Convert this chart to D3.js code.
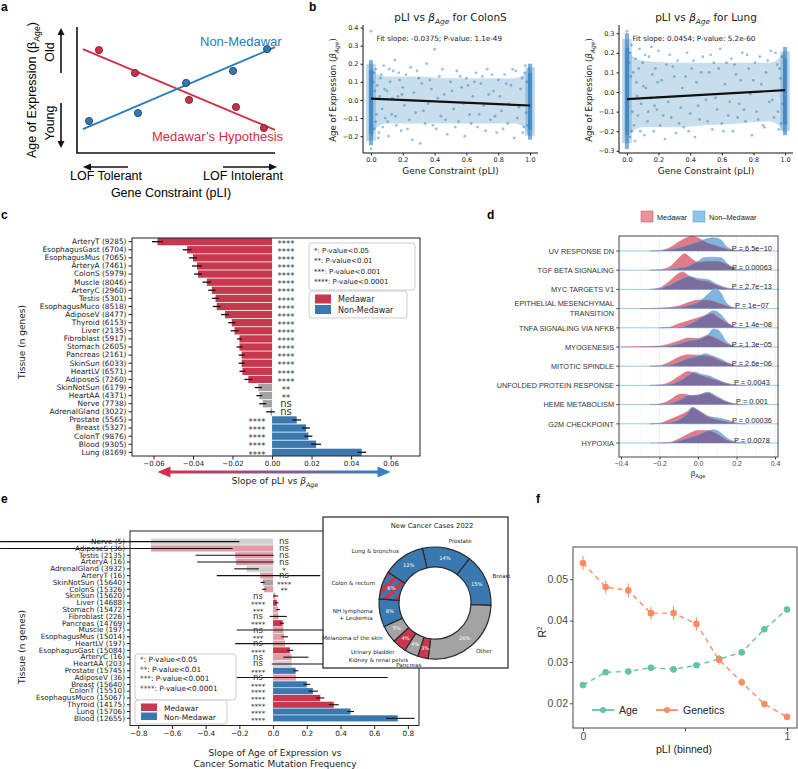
<!DOCTYPE html>
<html><head><meta charset="utf-8">
<script src="https://cdn.jsdelivr.net/npm/d3@7"></script>
<style>body{margin:0;background:#fff}</style></head>
<body><svg id="fig" width="798" height="769"></svg>
<script>
// ---------------- DATA ----------------
// panel a (schematic)
const aMedawarPts = [[0.111,0.817],[0.293,0.635],[0.566,0.421],[0.803,0.365],[0.944,0.198]];
const aNonMedawarPts = [[0.061,0.254],[0.308,0.317],[0.551,0.556],[0.788,0.651],[0.96,0.825]];
const aMedawarLine = [[0.03,0.825],[1.0,0.183]];
const aNonMedawarLine = [[0.03,0.19],[1.0,0.84]];
// panel b
const bTissues = ["ColonS","Lung"];
const bSlopes = [-0.0375, 0.0454];
const bPvalues = ["1.1e-49","5.2e-60"];
const bIntercepts = [0.007, -0.036];
const bEnvPli = [0,0.015,0.04,0.1,0.3,0.5,0.7,0.9,0.96,0.985,1.0];
const bColonEnvLo = [-0.24,-0.19,-0.15,-0.13,-0.13,-0.13,-0.13,-0.13,-0.15,-0.19,-0.21];
const bColonEnvHi = [0.21,0.17,0.14,0.13,0.13,0.12,0.12,0.12,0.14,0.17,0.19];
const bLungEnvLo = [-0.27,-0.22,-0.2,-0.18,-0.18,-0.17,-0.16,-0.15,-0.17,-0.2,-0.21];
const bLungEnvHi = [0.27,0.22,0.18,0.16,0.15,0.15,0.15,0.15,0.17,0.2,0.22];
const bColonEdges = [[0,-0.25,0.22],[1,-0.22,0.2]];
const bLungEdges = [[0,-0.29,0.3],[1,-0.22,0.23]];
const bColonPoints = [[0,0.38],[0.02,0.15],[0.03,-0.12],[0.04,0.08],[0.05,-0.18],[0.06,0.12],[0.07,-0.05],[0.08,0.19],[0.09,-0.1],[0.1,0.05],[0.11,-0.2],[0.12,0.1],[0.13,-0.08],[0.14,0.16],[0.15,0.22],[0.16,-0.14],[0.17,0.02],[0.18,0.11],[0.19,-0.17],[0.2,0.07],[0.21,-0.03],[0.22,0.14],[0.24,-0.11],[0.25,0.18],[0.26,-0.22],[0.27,0.04],[0.28,-0.07],[0.3,0.12],[0.31,-0.24],[0.32,0.09],[0.34,-0.13],[0.35,0.2],[0.36,-0.02],[0.38,0.06],[0.4,0.28],[0.41,-0.16],[0.43,0.13],[0.44,-0.09],[0.46,0.03],[0.48,-0.19],[0.5,0.1],[0.52,-0.05],[0.54,0.16],[0.55,-0.12],[0.57,0.07],[0.59,-0.2],[0.6,0.12],[0.62,-0.08],[0.64,0.02],[0.66,0.15],[0.67,-0.15],[0.69,0.09],[0.71,-0.03],[0.73,0.17],[0.75,-0.11],[0.77,0.05],[0.79,-0.18],[0.8,0.11],[0.82,-0.06],[0.84,0.14],[0.86,-0.13],[0.88,0.08],[0.9,-0.21],[0.91,0.16],[0.93,-0.04],[0.95,0.12],[0.96,-0.15],[0.97,0.19],[0,-0.27],
 [0.015,0.1],[0.02,-0.16],[0.025,0.05],[0.03,0.17],[0.035,-0.08],[0.045,-0.21],[0.055,0.02],[0.065,0.14],[0.075,-0.15],[0.085,0.06],[0.105,-0.12],[0.115,0.17],[0.135,0.01],[0.155,-0.09],[0.175,0.15],[0.195,0.03],[0.23,-0.16],[0.29,0.16],[0.33,-0.06],[0.37,0.11],[0.39,-0.14],[0.42,0.01],[0.45,0.17],[0.47,-0.11],[0.51,0.05],[0.53,-0.15],[0.56,0.13],[0.58,-0.02],[0.61,0.08],[0.63,-0.13],[0.65,0.1],[0.68,-0.08],[0.7,0.13],[0.72,-0.17],[0.74,0.03],[0.76,0.14],[0.78,-0.09],[0.81,0.02],[0.83,-0.16],[0.85,0.09],[0.87,-0.02],[0.89,0.17],[0.92,-0.1],[0.94,0.06],[0.955,-0.18],[0.965,0.15],[0.975,-0.07],[0.98,0.1],[0.985,-0.14]];
const bLungPoints = [[0,0.31],[0.02,0.2],[0.03,-0.2],[0.04,0.1],[0.05,-0.25],[0.06,0.05],[0.07,-0.12],[0.08,0.22],[0.09,-0.06],[0.1,0.15],[0.11,-0.22],[0.12,0.02],[0.13,-0.15],[0.14,0.18],[0.15,-0.03],[0.16,0.09],[0.17,-0.2],[0.18,0.12],[0.19,-0.09],[0.2,0.21],[0.21,-0.17],[0.22,0.06],[0.24,-0.24],[0.25,0.14],[0.26,-0.05],[0.27,0.19],[0.28,-0.13],[0.3,0.08],[0.31,-0.21],[0.32,0.16],[0.34,-0.08],[0.35,0.02],[0.36,-0.18],[0.38,0.2],[0.4,-0.11],[0.41,0.12],[0.43,-0.23],[0.44,0.05],[0.46,-0.14],[0.48,0.18],[0.5,-0.04],[0.52,0.1],[0.54,-0.19],[0.55,0.15],[0.57,-0.09],[0.59,0.22],[0.6,-0.16],[0.62,0.04],[0.64,-0.12],[0.66,0.17],[0.67,-0.2],[0.69,0.09],[0.71,-0.06],[0.73,0.2],[0.75,-0.15],[0.77,0.12],[0.79,-0.22],[0.8,0.06],[0.82,-0.1],[0.84,0.18],[0.86,-0.17],[0.88,0.1],[0.9,-0.05],[0.91,0.21],[0.93,-0.13],[0.95,0.14],[0.96,-0.19],[0.97,0.07],
 [0.015,0.15],[0.02,-0.23],[0.025,0.08],[0.03,0.24],[0.035,-0.1],[0.045,-0.17],[0.055,0.17],[0.065,-0.02],[0.075,0.12],[0.085,-0.2],[0.105,0.03],[0.115,0.19],[0.135,-0.1],[0.155,0.23],[0.175,-0.07],[0.195,0.05],[0.23,-0.12],[0.29,0.13],[0.33,-0.16],[0.37,0.08],[0.39,-0.2],[0.42,0.16],[0.45,-0.07],[0.47,0.1],[0.51,-0.15],[0.53,0.19],[0.56,-0.03],[0.58,0.12],[0.61,-0.2],[0.63,0.15],[0.65,-0.05],[0.68,0.14],[0.7,-0.13],[0.72,0.06],[0.74,-0.09],[0.76,0.19],[0.78,-0.01],[0.81,0.15],[0.83,-0.14],[0.85,0.04],[0.87,-0.18],[0.89,0.16],[0.92,-0.04],[0.94,0.2],[0.955,-0.1],[0.965,0.12],[0.975,-0.16],[0.98,0.18],[0.985,-0.06]];
// panel c
const cTissues = ["ArteryT","EsophagusGast","EsophagusMus","ArteryA","ColonS","Muscle","ArteryC","Testis","EsophagusMuco","AdiposeV","Thyroid","Liver","Fibroblast","Stomach","Pancreas","SkinSun","HeartLV","AdiposeS","SkinNotSun","HeartAA","Nerve","AdrenalGland","Prostate","Breast","ColonT","Blood","Lung"];
const cGenes = [9285,6704,7065,7461,5979,8046,2960,5301,8518,8477,6153,2135,5917,2605,2161,6033,6571,7260,6179,4371,7738,3022,5565,5327,9876,9305,8169];
const cSlopes = [-0.058,-0.043,-0.040,-0.038,-0.0375,-0.033,-0.0305,-0.0286,-0.028,-0.0238,-0.0204,-0.019,-0.0165,-0.0165,-0.0154,-0.0154,-0.015,-0.012,-0.0069,-0.0064,-0.0047,-0.0008,0.0125,0.0172,0.0184,0.0223,0.0454];
const cErr = [0.0028,0.0022,0.002,0.0025,0.002,0.0022,0.0018,0.0018,0.002,0.002,0.0018,0.002,0.0012,0.0015,0.0015,0.0015,0.0015,0.002,0.0018,0.0015,0.0018,0.0022,0.0022,0.002,0.002,0.0025,0.0022];
const cSig = ["****","****","****","****","****","****","****","****","****","****","****","****","****","****","****","****","****","****","**","**","ns","ns","****","****","****","****","****"];
const cGroup = ["M","M","M","M","M","M","M","M","M","M","M","M","M","M","M","M","M","M","G","G","G","G","N","N","N","N","N"];
const cTicks = [-0.06,-0.04,-0.02,0,0.02,0.04,0.06];
const sigLegend = ["*: P-value<0.05","**: P-value<0.01","***: P-value<0.001","****: P-value<0.0001"];
const groupLegend = ["Medawar","Non-Medawar"];
// panel d
const dPathways = ["UV RESPONSE DN","TGF BETA SIGNALING","MYC TARGETS V1","EPITHELIAL MESENCHYMAL\nTRANSITION","TNFA SIGNALING VIA NFKB","MYOGENESIS","MITOTIC SPINDLE","UNFOLDED PROTEIN RESPONSE","HEME METABOLISM","G2M CHECKPOINT","HYPOXIA"];
const dPvalues = ["P = 6.5e\u221210","P = 0.00063","P = 2.7e\u221213","P = 1e\u221207","P = 1.4e\u221208","P = 1.3e\u221205","P = 2.6e\u221206","P = 0.0043","P = 0.001","P = 0.00036","P = 0.0078"];
const dMedawar = [
 [[-0.25,0],[-0.2,0.3],[-0.15,3],[-0.1,9],[-0.05,14],[-0.03,14.7],[0,13],[0.05,8],[0.1,5],[0.15,2],[0.2,0.5],[0.25,0]],
 [[-0.25,0],[-0.2,0.5],[-0.15,3],[-0.1,12],[-0.07,16.5],[-0.03,11],[0,8],[0.05,9],[0.1,9],[0.15,6],[0.2,1],[0.25,0]],
 [[-0.25,0],[-0.2,1.5],[-0.15,8],[-0.1,16],[-0.08,17.5],[-0.05,14],[0,9.5],[0.05,8],[0.1,4],[0.15,1],[0.2,0],[0.25,0]],
 [[-0.3,0],[-0.2,0.5],[-0.1,2.5],[-0.05,6],[0,8.5],[0.05,8.5],[0.1,6],[0.15,2.5],[0.2,0.3],[0.25,0]],
 [[-0.2,0],[-0.15,0.5],[-0.1,4],[-0.05,7],[0,10],[0.05,13],[0.07,14.5],[0.1,11],[0.15,5],[0.2,0.5],[0.25,0]],
 [[-0.4,0],[-0.35,0.2],[-0.2,1],[-0.15,3],[-0.1,6],[-0.05,9],[0,8.5],[0.05,11.5],[0.1,8],[0.15,3],[0.2,0.5],[0.25,0]],
 [[-0.25,0],[-0.2,0.5],[-0.15,4],[-0.1,9],[-0.05,11.5],[0,11],[0.05,10.5],[0.1,7],[0.15,3],[0.2,0.5],[0.25,0]],
 [[-0.25,0],[-0.2,0.5],[-0.15,3],[-0.1,9],[-0.05,14],[0,11],[0.05,8],[0.1,5],[0.15,2],[0.2,0.3],[0.25,0]],
 [[-0.25,0],[-0.2,0.5],[-0.15,4],[-0.1,10],[-0.08,10.5],[-0.03,9],[0,9.5],[0.05,11.5],[0.1,7],[0.15,2.5],[0.2,0.5],[0.25,0]],
 [[-0.25,0],[-0.2,0.5],[-0.15,4],[-0.1,8],[-0.05,13],[-0.03,16],[0,13],[0.05,7],[0.1,4],[0.15,2],[0.2,0.3],[0.25,0]],
 [[-0.2,0],[-0.15,0.5],[-0.1,4],[-0.05,9],[0,12.5],[0.05,12.5],[0.1,9],[0.15,3],[0.2,0.3],[0.25,0]]];
const dNonMedawar = [
 [[-0.25,0],[-0.2,0.5],[-0.1,3],[-0.05,6],[0,9],[0.05,12.5],[0.08,13.3],[0.12,11],[0.15,4],[0.2,0.5],[0.25,0]],
 [[-0.25,0],[-0.2,0.3],[-0.1,2],[-0.05,4],[0,9],[0.03,12.5],[0.07,13],[0.12,12.5],[0.15,7],[0.2,1],[0.25,0]],
 [[-0.25,0],[-0.2,1],[-0.15,4],[-0.1,9],[-0.05,13],[0,11],[0.05,10],[0.1,5],[0.15,1.5],[0.2,0.3],[0.25,0]],
 [[-0.3,0],[-0.2,0.2],[-0.1,1],[-0.05,3],[0,6],[0.05,14],[0.09,20],[0.12,15],[0.15,5],[0.2,0.5],[0.25,0]],
 [[-0.2,0],[-0.1,0.5],[-0.05,3],[0,8],[0.05,14],[0.08,17],[0.12,13],[0.15,6],[0.2,0.5],[0.25,0]],
 [[-0.3,0],[-0.2,0.3],[-0.1,3],[-0.05,6],[0,7.5],[0.05,12],[0.08,18],[0.11,16],[0.15,5],[0.2,0.5],[0.25,0]],
 [[-0.25,0],[-0.15,1],[-0.1,4],[-0.05,8],[0,10],[0.04,12.5],[0.08,10],[0.12,7],[0.15,4],[0.2,0.5],[0.25,0]],
 [[-0.25,0],[-0.15,1],[-0.1,4],[-0.05,10],[-0.02,13.5],[0.02,11],[0.05,10],[0.1,6],[0.15,2],[0.2,0.5],[0.25,0]],
 [[-0.25,0],[-0.15,1],[-0.1,4],[-0.05,9],[0,9.5],[0.05,12.5],[0.1,8],[0.15,3],[0.2,0.5],[0.25,0]],
 [[-0.25,0],[-0.15,1],[-0.1,4],[-0.05,11],[-0.03,16.5],[0,14],[0.05,8],[0.1,6],[0.15,4],[0.2,1],[0.25,0]],
 [[-0.25,0],[-0.15,0.3],[-0.1,2],[-0.05,5],[0,8],[0.05,12],[0.08,13.3],[0.12,10],[0.15,5],[0.2,1],[0.25,0]]];
const dTicks = [-0.4,-0.2,0,0.2,0.4];
// panel e
const eTissues = ["Nerve","AdiposeS","Testis","ArteryA","AdrenalGland","ArteryT","SkinNotSun","ColonS","SkinSun","Liver","Stomach","Fibroblast","Pancreas","Muscle","EsophagusMus","HeartLV","EsophagusGast","ArteryC","HeartAA","Prostate","AdiposeV","Breast","ColonT","EsophagusMuco","Thyroid","Lung","Blood"];
const eGenes = [5,36,2135,16,3932,16,15640,15326,15620,14688,15472,226,14769,197,15014,197,15084,16,203,15745,36,15640,15510,15067,14175,15706,12655];
const eSlopes = [-0.724,-0.724,-0.225,-0.22,-0.157,-0.077,-0.061,-0.053,0.014,0.022,0.03,0.032,0.057,0.061,0.065,0.071,0.10,0.11,0.11,0.134,0.135,0.20,0.236,0.28,0.36,0.46,0.74];
const eLo = [-1.62,-1.62,-0.46,-0.45,-0.23,-0.334,-0.075,-0.065,0.0,0.012,0.02,-0.02,0.04,-0.216,0.05,-0.225,0.085,0.061,-0.008,0.12,-0.216,0.18,0.21,0.255,0.33,0.44,0.67];
const eHi = [-0.2,-0.24,0.005,0.005,-0.085,0.28,-0.05,-0.04,0.03,0.032,0.04,0.082,0.065,0.34,0.088,0.37,0.12,0.21,0.30,0.15,0.68,0.22,0.266,0.305,0.39,0.48,0.84];
const eSig = ["ns","ns","ns","ns","*","ns","****","**","ns","****","***","ns","****","ns","***","ns","****","ns","ns","****","ns","****","****","****","****","****","****"];
const eGroup = ["G","M","M","M","G","M","G","M","M","M","M","M","M","M","M","M","M","M","G","N","M","N","N","M","M","N","N"];
const eTicks = [-0.8,-0.6,-0.4,-0.2,0,0.2,0.4,0.6,0.8];
// inset pie
const pieSites = ["Prostate","Breast","Other","Pancreas","Kidney & renal pelvis","Urinary bladder","Melanoma of the skin","NH lymphoma\n+ Leukemia","Colon & rectum","Lung & bronchus"];
const piePct = [14,15,26,3,4,4,5,8,8,12];
const pieGroup = ["N","N","G","M","G","M","G","N","S","N"];
// panel f
const fBins = [0,0.111,0.222,0.333,0.444,0.556,0.667,0.778,0.889,1];
const fAge = [0.0244,0.0275,0.0277,0.0286,0.0282,0.0292,0.0307,0.0323,0.0379,0.0427];
const fAgeErr = [0.0003,0.0003,0.0003,0.0003,0.0003,0.0003,0.0003,0.0003,0.0004,0.0004];
const fGenetics = [0.0539,0.0481,0.0473,0.0418,0.0418,0.0392,0.0305,0.0251,0.0198,0.0167];
const fGenErr = [0.0017,0.0016,0.0017,0.0016,0.0017,0.0016,0.0012,0.001,0.0008,0.0005];
const fTicksY = [0.02,0.03,0.04,0.05];

// ---------------- DRAW ----------------
const FD = "'DejaVu Sans', sans-serif", FA = "'Liberation Sans', Arial, sans-serif";
const RED="#c8374d", BLUE="#3a78b0", GRAY="#a3a3a3";
const svg = d3.select("#fig");
const defs = svg.append("defs");
function T(g,x,y,s,o={}){const t=g.append("text").attr("x",x).attr("y",y);if(s)t.text(s);for(const k in o)t.attr(k,o[k]);return t;}
function sub(t,size,italic,after){
  t.append("tspan").text("β").attr("font-style",italic?"italic":null);
  t.append("tspan").text("Age").attr("font-size",size*0.7).attr("dy",size*0.3).attr("font-style",italic?"italic":null);
  if(after) t.append("tspan").text(after).attr("dy",-size*0.3);
}
function arrow(g,x1,y1,x2,y2,w,hl,hw,color){
  const a=Math.atan2(y2-y1,x2-x1),bx=x2-hl*Math.cos(a),by=y2-hl*Math.sin(a);
  g.append("line").attr("x1",x1).attr("y1",y1).attr("x2",bx).attr("y2",by).attr("stroke",color).attr("stroke-width",w);
  const px=-Math.sin(a)*hw,py=Math.cos(a)*hw;
  g.append("path").attr("d",`M${x2},${y2}L${bx+px},${by+py}L${bx-px},${by-py}Z`).attr("fill",color);
}
function styleAxis(g,size,font,color){g.selectAll("text").attr("font-size",size).attr("font-family",font).attr("fill",color||"#222");g.selectAll("line").attr("stroke",color||"#222");g.select(".domain").remove();}

// panel labels
[["a",1,11],["b",309,11],["c",1,219],["d",487,219],["e",1,503],["f",536,503]].forEach(p=>T(svg,p[1],p[2],p[0],{"font-family":FA,"font-weight":"bold","font-size":12}));

// ---- panel a ----
{
 const g=svg.append("g").attr("font-family",FA);
 const x=d3.scaleLinear().domain([0,1]).range([77,275]), y=d3.scaleLinear().domain([0,1]).range([153,27]);
 const ARED="#d42c44", ABLUE="#2b7bbd";
 const ln=d3.line().x(d=>x(d[0])).y(d=>y(d[1]));
 g.append("path").attr("d",ln(aMedawarLine)).attr("stroke",ARED).attr("stroke-width",1.8);
 g.append("path").attr("d",ln(aNonMedawarLine)).attr("stroke",ABLUE).attr("stroke-width",1.8);
 g.selectAll(".rd").data(aMedawarPts).join("circle").attr("cx",d=>x(d[0])).attr("cy",d=>y(d[1])).attr("r",3.6).attr("fill",ARED).attr("stroke","#333").attr("stroke-width",0.8);
 g.selectAll(".bd").data(aNonMedawarPts).join("circle").attr("cx",d=>x(d[0])).attr("cy",d=>y(d[1])).attr("r",3.6).attr("fill",ABLUE).attr("stroke","#333").attr("stroke-width",0.8);
 g.append("path").attr("d",`M${x(0)},${y(1)}V${y(0)}H${x(1)}`).attr("fill","none").attr("stroke","#111").attr("stroke-width",1.6);
 T(g,200,46,"Non-Medawar",{"font-size":13,fill:ABLUE});
 T(g,152,141,"Medawar’s Hypothesis",{"font-size":13,fill:ARED});
 arrow(g,61,73,61,28,1.6,7,3.5,"#111"); arrow(g,61,103,61,148,1.6,7,3.5,"#111");
 T(g,0,0,"Old",{"font-size":12.5,"text-anchor":"middle",transform:"translate(54,52) rotate(-90)"});
 T(g,0,0,"Young",{"font-size":12.5,"text-anchor":"middle",transform:"translate(54,123) rotate(-90)"});
 const yl=T(g,0,0,"Age of Expression (",{"font-size":12.5,"text-anchor":"middle",transform:"translate(36,90) rotate(-90)"}); sub(yl,12.5,false,")");
 arrow(g,128,167,83,167,1.5,8,3.5,"#111"); arrow(g,223,167,277,167,1.5,8,3.5,"#111");
 T(g,70,180,"LOF Tolerant",{"font-size":12.5}); T(g,203,180,"LOF Intolerant",{"font-size":12.5});
 T(g,171,197,"Gene Constraint (pLI)",{"font-size":12.5,"text-anchor":"middle"});
}

// ---- panel b ----
function scatterPanel(i,pts,envLo,envHi,edges,box,ydom,yt){
 const g=svg.append("g").attr("font-family",FD);
 const x=d3.scaleLinear().domain([-0.05,1.05]).range([box.l,box.r]);
 const y=d3.scaleLinear().domain(ydom).range([153,25]);
 const env=bEnvPli.map((p,k)=>[p,envLo[k],envHi[k]]);
 g.append("path").attr("d",d3.area().x(d=>x(d[0])).y0(d=>y(d[1])).y1(d=>y(d[2])).curve(d3.curveMonotoneX)(env)).attr("fill","#1f77b4").attr("opacity",0.24);
 g.selectAll(".halo").data(edges).join("rect").attr("x",d=>x(d[0]-0.03)).attr("width",x(0.03)-x(-0.03)).attr("y",d=>y(d[2]*0.9)).attr("height",d=>y(d[1]*0.9)-y(d[2]*0.9)).attr("fill","#2c7bbd").attr("opacity",0.3);
 g.selectAll(".ed").data(edges).join("rect").attr("x",d=>x(d[0]-0.013)).attr("width",x(0.013)-x(-0.013)).attr("y",d=>y(d[2])).attr("height",d=>y(d[1])-y(d[2])).attr("fill","#2c7bbd").attr("opacity",0.6);
 g.selectAll(".core").data(edges).join("rect").attr("x",d=>x(d[0]-0.013)).attr("width",x(0.013)-x(-0.013)).attr("y",d=>y(d[2]*0.75)).attr("height",d=>y(d[1]*0.75)-y(d[2]*0.75)).attr("fill","#2c7bbd").attr("opacity",0.5);
 g.selectAll(".pt").data(pts).join("circle").attr("cx",d=>x(d[0])).attr("cy",d=>y(d[1])).attr("r",1.4).attr("fill","#1f77b4").attr("opacity",0.45);
 g.append("path").attr("d",d3.line().x(d=>x(d)).y(d=>y(bIntercepts[i]+bSlopes[i]*d))([0,1])).attr("stroke","#111").attr("stroke-width",2.2);
 const ax=g.append("g").attr("transform",`translate(0,153)`).call(d3.axisBottom(x).tickValues([0,0.2,0.4,0.6,0.8,1]).tickFormat(d3.format(".1f")).tickSize(2.5).tickPadding(2));
 styleAxis(ax,6.5,FD);
 const ay=g.append("g").attr("transform",`translate(${box.l},0)`).call(d3.axisLeft(y).tickValues(yt).tickFormat(d3.format(".1f")).tickSize(2.5).tickPadding(2));
 styleAxis(ay,6.5,FD);
 g.append("path").attr("d",`M${box.l},25V153H${box.r}`).attr("fill","none").attr("stroke","#111").attr("stroke-width",1);
 const cx=(x(0)+x(1))/2;
 const tt=T(g,cx,21,"pLI vs ",{"font-size":10.5,"text-anchor":"middle",fill:"#222"}); sub(tt,10.5,true," for "+bTissues[i]);
 T(g,x(0.035),41,`Fit slope: ${bSlopes[i]}; P-value: ${bPvalues[i]}`,{"font-size":7.2,fill:"#222"});
 T(g,cx,174,"Gene Constraint (pLI)",{"font-size":9,"text-anchor":"middle",fill:"#222"});
 const yl=T(g,0,0,"Age of Expression (",{"font-size":8.6,"text-anchor":"middle",fill:"#222",transform:`translate(${box.l-27},90) rotate(-90)`}); sub(yl,8.6,true,")");
}
scatterPanel(0,bColonPoints,bColonEnvLo,bColonEnvHi,bColonEdges,{l:363,r:538},[-0.293,0.414],[-0.2,-0.1,0,0.1,0.2,0.3,0.4]);
scatterPanel(1,bLungPoints,bLungEnvLo,bLungEnvHi,bLungEdges,{l:619,r:793},[-0.311,0.342],[-0.3,-0.2,-0.1,0,0.1,0.2,0.3]);

// legends shared
function sigLegendBox(g,x0,y0,w,h,lh,fs){
 g.append("rect").attr("x",x0).attr("y",y0).attr("width",w).attr("height",h).attr("rx",3).attr("fill","#fff").attr("fill-opacity",0.85).attr("stroke","#ccc");
 sigLegend.forEach((s,k)=>T(g,x0+5,y0+lh*(k+1)-1,s,{"font-size":fs,fill:"#222"}));
}
function groupLegendBox(g,x0,y0,w,h,fs){
 g.append("rect").attr("x",x0).attr("y",y0).attr("width",w).attr("height",h).attr("rx",3).attr("fill","#fff").attr("fill-opacity",0.85).attr("stroke","#ccc");
 [RED,BLUE].forEach((c,k)=>{g.append("rect").attr("x",x0+6).attr("y",y0+3.5+k*(h-6)/2).attr("width",16).attr("height",(h-6)/2-1.5).attr("fill",c);
  T(g,x0+29,y0+3+(k+0.5)*(h-6)/2+3,groupLegend[k],{"font-size":fs,fill:"#222"});});
}
const gcol=gr=>gr==="M"?RED:gr==="N"?BLUE:GRAY;

// ---- panel c ----
{
 const g=svg.append("g").attr("font-family",FD);
 const x=d3.scaleLinear().domain([-0.0709,0.0749]).range([132,420]);
 const y=d3.scaleBand().domain(cTissues).range([238,456]).paddingInner(0.1);
 const idx=cTissues.map((t,k)=>k);
 g.selectAll(".bar").data(idx).join("rect").attr("x",k=>x(Math.min(0,cSlopes[k]))).attr("width",k=>Math.abs(x(cSlopes[k])-x(0))).attr("y",k=>y(cTissues[k])).attr("height",y.bandwidth()).attr("fill",k=>gcol(cGroup[k]));
 g.selectAll(".err").data(idx).join("line").attr("x1",k=>x(cSlopes[k]-cErr[k])).attr("x2",k=>x(cSlopes[k]+cErr[k])).attr("y1",k=>y(cTissues[k])+y.bandwidth()/2).attr("y2",k=>y(cTissues[k])+y.bandwidth()/2).attr("stroke","#111").attr("stroke-width",1.3);
 g.selectAll(".sig").data(idx).join("text").attr("x",k=>cSlopes[k]<0?x(0)+14:x(0)-15).attr("y",k=>y(cTissues[k])+y.bandwidth()/2+(cSig[k]==="ns"?3:5.2)).attr("text-anchor","middle").attr("font-size",k=>cSig[k]==="ns"?10:8.5).attr("fill","#333").text(k=>cSig[k]);
 const ay=g.append("g").attr("transform","translate(132,0)").call(d3.axisLeft(y).tickFormat((t,k)=>`${t} (${cGenes[k]})`).tickSize(3.5).tickPadding(2));
 styleAxis(ay,7.4,FD);
 const ax=g.append("g").attr("transform","translate(0,456)").call(d3.axisBottom(x).tickValues(cTicks).tickFormat(d3.format(".2f")).tickSize(3.5).tickPadding(2));
 styleAxis(ax,7,FD);
 g.append("rect").attr("x",132).attr("y",238).attr("width",288).attr("height",218).attr("fill","none").attr("stroke","#222").attr("stroke-width",1);
 sigLegendBox(g,309,243,106,47,10.5,7);
 groupLegendBox(g,309,291,98,27,8);
 const grad=defs.append("linearGradient").attr("id","cgrad").attr("gradientUnits","userSpaceOnUse").attr("x1",x(-0.058)).attr("x2",x(0.06)).attr("y1",0).attr("y2",0);
 grad.append("stop").attr("offset",0).attr("stop-color","#d62c47"); grad.append("stop").attr("offset",0.5).attr("stop-color","#8a5a8e"); grad.append("stop").attr("offset",1).attr("stop-color","#2f82c6");
 const L=x(-0.058),R=x(0.06),yy=472;
 g.append("path").attr("d",`M${L},${yy}L${L+13},${yy-5.5}L${L+13},${yy-1.5}L${R-13},${yy-1.5}L${R-13},${yy-5.5}L${R},${yy}L${R-13},${yy+5.5}L${R-13},${yy+1.5}L${L+13},${yy+1.5}L${L+13},${yy+5.5}Z`).attr("fill","url(#cgrad)");
 const xl=T(g,275,484,"Slope of pLI vs ",{"font-size":9,"text-anchor":"middle",fill:"#222"}); sub(xl,9,true,null);
 T(g,0,0,"Tissue (n genes)",{"font-size":9,"text-anchor":"middle",fill:"#222",transform:"translate(25,342) rotate(-90)"});
}

// ---- panel d ----
{
 const g=svg.append("g").attr("font-family",FA);
 const x=d3.scaleLinear().domain([-0.4,0.4]).range([621,775]);
 const y=d3.scalePoint().domain(dPathways).range([251,443]);
 const h=d3.scaleLinear().domain([0,20]).range([0,20]);
 [-0.4,-0.3,-0.2,-0.1,0,0.1,0.2,0.3,0.4].forEach(v=>g.append("line").attr("x1",x(v)).attr("x2",x(v)).attr("y1",236).attr("y2",457).attr("stroke",dTicks.includes(v)?"#e6e6e6":"#f3f3f3").attr("stroke-width",0.6));
 const DRED="#e27a88",DBLUE="#7db7e1",DPUR="#7b6e9e";
 dPathways.forEach((p,k)=>{
  const b=y(p);
  const area=d3.area().x(d=>x(d[0])).y0(b).y1(d=>b-h(d[1])).curve(d3.curveMonotoneX);
  const line=d3.line().x(d=>x(d[0])).y(d=>b-h(d[1])).curve(d3.curveMonotoneX);
  g.append("line").attr("x1",x(-0.42)).attr("x2",x(0.42)).attr("y1",b).attr("y2",b).attr("stroke","#9cc9ea").attr("stroke-width",1);
  const cid="dclip"+k;
  defs.append("clipPath").attr("id",cid).append("path").attr("d",area(dMedawar[k]));
  g.append("path").attr("d",area(dMedawar[k])).attr("fill",DRED);
  g.append("path").attr("d",area(dNonMedawar[k])).attr("fill",DBLUE);
  g.append("path").attr("d",area(dNonMedawar[k])).attr("fill",DPUR).attr("clip-path",`url(#${cid})`);
  g.append("path").attr("d",line(dMedawar[k])).attr("fill","none").attr("stroke","#dc6675").attr("stroke-width",0.5);
  g.append("path").attr("d",line(dNonMedawar[k])).attr("fill","none").attr("stroke","#5ea4d8").attr("stroke-width",0.5);
  T(g,x(0.28),b-0.5,dPvalues[k],{"font-size":7.4,"text-anchor":"middle",fill:"#222"});
  const lines=p.split("\n");
  if(lines.length===1) T(g,614,b+2.7,p,{"font-size":7.3,"text-anchor":"end",fill:"#333"});
  else lines.forEach((s,j)=>T(g,614,b-2.5+j*10,s,{"font-size":7.3,"text-anchor":"end",fill:"#333"}));
  g.append("line").attr("x1",616).attr("x2",619).attr("y1",b).attr("y2",b).attr("stroke","#333").attr("stroke-width",0.7);
 });
 g.append("rect").attr("x",619).attr("y",236).attr("width",159).attr("height",221).attr("fill","none").attr("stroke","#333").attr("stroke-width",0.9);
 const ax=g.append("g").attr("transform","translate(0,457)").call(d3.axisBottom(x).tickValues(dTicks).tickFormat(d3.format(".1f")).tickSize(2.5).tickPadding(1.5));
 styleAxis(ax,7,FA,"#444");
 const bl=T(g,698,476,null,{"font-size":8,"text-anchor":"middle",fill:"#222"}); sub(bl,8,false,null);
 g.append("rect").attr("x",641).attr("y",211).attr("width",12).attr("height",11).attr("fill","#e8929c").attr("stroke","#d96272").attr("stroke-width",0.6);
 T(g,657,219.5,"Medawar",{"font-size":7.3,fill:"#222"});
 g.append("rect").attr("x",693).attr("y",211).attr("width",12).attr("height",11).attr("fill","#8fc4ea").attr("stroke","#5ca2d8").attr("stroke-width",0.6);
 T(g,709,219.5,"Non\u2013Medawar",{"font-size":7.3,fill:"#222"});
}

// ---- panel e ----
{
 const g=svg.append("g").attr("font-family",FD);
 const x=d3.scaleLinear().domain([-0.849,0.866]).range([130,419]);
 const y=d3.scaleBand().domain(eTissues).range([538.6,721.4]).paddingInner(0.1);
 const idx=eTissues.map((t,k)=>k);
 const cy=k=>y(eTissues[k])+y.bandwidth()/2;
 g.selectAll(".bar").data(idx).join("rect").attr("x",k=>x(Math.min(0,eSlopes[k]))).attr("width",k=>Math.abs(x(eSlopes[k])-x(0))).attr("y",k=>y(eTissues[k])).attr("height",y.bandwidth()).attr("fill",k=>gcol(eGroup[k])).attr("opacity",k=>eSig[k]==="****"?1:0.5);
 g.selectAll(".err").data(idx).join("line").attr("x1",k=>x(eLo[k])).attr("x2",k=>x(eHi[k])).attr("y1",cy).attr("y2",cy).attr("stroke","#111").attr("stroke-width",1.1);
 g.selectAll(".sig").data(idx).join("text").attr("x",k=>eSlopes[k]<0?x(0)+11:x(0)-15).attr("y",k=>cy(k)+(eSig[k]==="ns"?2.5:4.2)).attr("text-anchor","middle").attr("font-size",k=>eSig[k]==="ns"?8.6:7.2).attr("fill","#333").text(k=>eSig[k]);
 const ay=g.append("g").attr("transform","translate(130,0)").call(d3.axisLeft(y).tickFormat((t,k)=>`${t} (${eGenes[k]})`).tickSize(3).tickPadding(2));
 styleAxis(ay,7.2,FD);
 const ax=g.append("g").attr("transform","translate(0,725.5)").call(d3.axisBottom(x).tickValues(eTicks).tickFormat(d3.format(".1f")).tickSize(3.5).tickPadding(2));
 styleAxis(ax,7.3,FD);
 g.append("rect").attr("x",130).attr("y",531).attr("width",289).attr("height",194.5).attr("fill","none").attr("stroke","#222").attr("stroke-width",1);
 sigLegendBox(g,135,654,101,46,9.4,7.3);
 groupLegendBox(g,135,700,92,24,7.5);
 T(g,275,756,"Slope of Age of Expression vs",{"font-size":9,"text-anchor":"middle",fill:"#222"});
 T(g,275,767,"Cancer Somatic Mutation Frequency",{"font-size":9,"text-anchor":"middle",fill:"#222"});
 T(g,0,0,"Tissue (n genes)",{"font-size":9,"text-anchor":"middle",fill:"#222",transform:"translate(25,647) rotate(-90)"});
}

// ---- inset pie ----
{
 const g=svg.append("g").attr("font-family",FD);
 g.append("rect").attr("x",323).attr("y",517).attr("width",185).attr("height",151).attr("fill","#fff").attr("stroke","#222").attr("stroke-width",1.2);
 T(g,432,528,"New Cancer Cases 2022",{"font-size":6.8,"text-anchor":"middle",fill:"#222"});
 const pat=defs.append("pattern").attr("id","stripe").attr("patternUnits","userSpaceOnUse").attr("width",8).attr("height",8).attr("patternTransform","rotate(45)");
 pat.append("rect").attr("width",4).attr("height",8).attr("fill",RED); pat.append("rect").attr("x",4).attr("width",4).attr("height",8).attr("fill",BLUE);
 const cx=435,cy=603,R=56,r=36;
 const pie=d3.pie().sort(null).startAngle(-13*Math.PI/180).endAngle(2*Math.PI-13*Math.PI/180)(piePct);
 const arc=d3.arc().innerRadius(r).outerRadius(R);
 const fillOf=gr=>gr==="S"?"url(#stripe)":gcol(gr);
 const pg=g.append("g").attr("transform",`translate(${cx},${cy})`);
 pg.selectAll("path").data(pie).join("path").attr("d",arc).attr("fill",(d,k)=>fillOf(pieGroup[k])).attr("stroke","#2b2b2b").attr("stroke-width",1.2);
 const mid=d3.arc().innerRadius((R+r)/2).outerRadius((R+r)/2);
 pg.selectAll(".pct").data(pie).join("text").attr("transform",d=>`translate(${mid.centroid(d)})`).attr("dy","0.35em").attr("text-anchor","middle").attr("font-size",5.2).attr("fill","#fff").text((d,k)=>piePct[k]+"%");
 pie.forEach((d,k)=>{
  const a=(d.startAngle+d.endAngle)/2, lx=Math.sin(a)*R*1.13, ly=-Math.cos(a)*R*1.13;
  const lines=pieSites[k].split("\n");
  lines.forEach((s,j)=>T(pg,lx,ly+2+(j-(lines.length-1)/2)*6.5,s,{"font-size":5.6,"text-anchor":lx<0?"end":"start",fill:"#222"}));
 });
}

// ---- panel f ----
{
 const g=svg.append("g").attr("font-family",FA);
 const x=d3.scaleLinear().domain([-0.049,1.049]).range([573,797]);
 const y=d3.scaleLinear().domain([0.01402,0.0578]).range([728,547]);
 const TEAL="#66c2a5",ORG="#fc8d62";
 const ln=d3.line().x((d,k)=>x(fBins[k])).y(d=>y(d));
 g.append("path").attr("d",ln(fAge)).attr("fill","none").attr("stroke",TEAL).attr("stroke-width",1.4).attr("stroke-dasharray","5,4");
 g.append("path").attr("d",ln(fGenetics)).attr("fill","none").attr("stroke",ORG).attr("stroke-width",1.4).attr("stroke-dasharray","5,4");
 [[fAge,fAgeErr,TEAL],[fGenetics,fGenErr,ORG]].forEach(([v,e,c])=>{
  g.selectAll(null).data(v).join("line").attr("x1",(d,k)=>x(fBins[k])).attr("x2",(d,k)=>x(fBins[k])).attr("y1",(d,k)=>y(d-e[k])).attr("y2",(d,k)=>y(d+e[k])).attr("stroke",c).attr("stroke-width",1);
  g.selectAll(null).data(v).join("circle").attr("cx",(d,k)=>x(fBins[k])).attr("cy",d=>y(d)).attr("r",3.3).attr("fill",c);
 });
 g.append("rect").attr("x",573).attr("y",547).attr("width",224).attr("height",181).attr("fill","none").attr("stroke","#333").attr("stroke-width",0.9);
 const ay=g.append("g").attr("transform","translate(573,0)").call(d3.axisLeft(y).tickValues(fTicksY).tickFormat(d3.format(".2f")).tickSize(3).tickPadding(2));
 styleAxis(ay,10.5,FA,"#4d4d4d");
 const ax=g.append("g").attr("transform","translate(0,728)").call(d3.axisBottom(x).tickValues([0,0.5,1]).tickFormat(d=>d===0.5?"":d3.format("d")(d)).tickSize(3).tickPadding(2));
 styleAxis(ax,10.5,FA,"#4d4d4d");
 T(g,684,753,"pLI (binned)",{"font-size":10.5,"text-anchor":"middle",fill:"#222"});
 const rl=T(g,0,0,"R",{"font-size":10.5,"text-anchor":"middle",fill:"#222",transform:"translate(546,632) rotate(-90)"});
 rl.append("tspan").text("2").attr("font-size",6.5).attr("dy",-4);
 [[TEAL,"Age",592],[ORG,"Genetics",656]].forEach(([c,s,x0])=>{
  g.append("line").attr("x1",x0).attr("x2",x0+22).attr("y1",710).attr("y2",710).attr("stroke",c).attr("stroke-width",1.8);
  g.append("circle").attr("cx",x0+11).attr("cy",710).attr("r",3).attr("fill",c);
  T(g,x0+27,714,s,{"font-size":10.5,fill:"#222"});
 });
}
</script></body></html>
